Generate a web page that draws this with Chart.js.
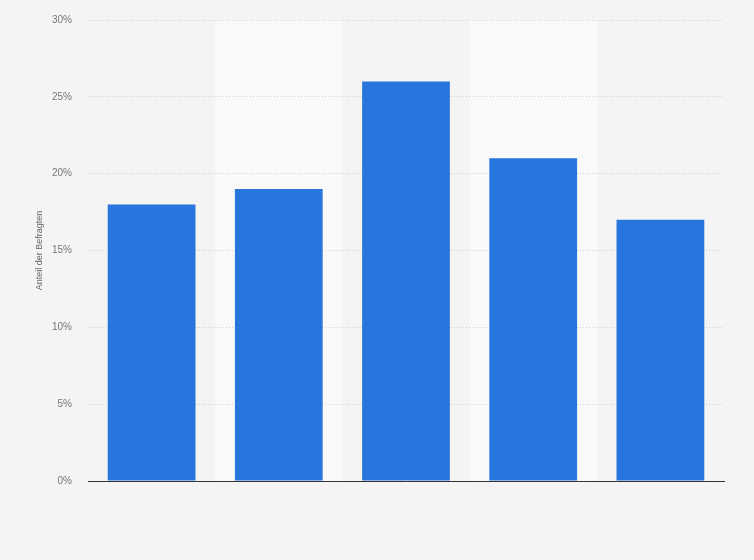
<!DOCTYPE html>
<html>
<head>
<meta charset="utf-8">
<script src="https://cdn.jsdelivr.net/npm/chart.js@4"></script>
<style>
  html, body { margin: 0; padding: 0; background: #f4f4f4; }
  #wrap { width: 754px; height: 560px; }
</style>
</head>
<body>
<div id="wrap"><canvas id="chart"></canvas></div>
<script>
// categories are not labelled in the source picture
const categories = ["1", "2", "3", "4", "5"];
const shares = [18, 19, 26, 21, 17];
const yTicks = [0, 5, 10, 15, 20, 25, 30];

// lighter background band behind every second category
const bandPlugin = {
    id: "bands",
    beforeDraw(chart) {
        const { ctx, chartArea, scales } = chart;
        const x = scales.x;
        const step = x.width / categories.length;
        ctx.save();
        ctx.fillStyle = "#f9f9f9";
        categories.forEach((c, i) => {
            if (i % 2 === 1) {
                const cx = x.getPixelForValue(i);
                ctx.fillRect(cx - step / 2, chartArea.top, step, chartArea.bottom - chartArea.top);
            }
        });
        ctx.restore();
    }
};

new Chart(document.getElementById("chart"), {
    type: "bar",
    data: {
        labels: categories,
        datasets: [{
            data: shares,
            backgroundColor: "#2876dd",
            barPercentage: 0.69,
            categoryPercentage: 1
        }]
    },
    options: {
        responsive: true,
        maintainAspectRatio: false,
        animation: false,
        layout: { padding: { top: 20, right: 30, bottom: 0, left: 0 } },
        plugins: {
            legend: { display: false },
            tooltip: { enabled: false }
        },
        scales: {
            x: {
                ticks: { display: false },
                grid: { display: false, drawTicks: false },
                border: { display: true, color: "#333", width: 1 },
                afterFit(scale) { scale.height = 79; }
            },
            y: {
                min: 0,
                max: 30,
                afterBuildTicks(scale) { scale.ticks = yTicks.map(v => ({ value: v })); },
                ticks: {
                    padding: 16,
                    color: "#777",
                    font: { family: "Liberation Sans", size: 10 },
                    callback: v => v + "%"
                },
                grid: {
                    color: "#cfcfcf",
                    drawTicks: false
                },
                border: { display: false, dash: [1, 2] },
                title: {
                    display: true,
                    text: "Anteil der Befragten",
                    color: "#666",
                    font: { family: "Liberation Sans", size: 9 },
                    padding: { top: 34, bottom: 0 }
                },
                afterFit(scale) {
                    scale.width = 88;
                    scale.paddingTop = 0;
                    scale.paddingBottom = 0;
                }
            }
        }
    },
    plugins: [bandPlugin]
});
</script>
</body>
</html>
